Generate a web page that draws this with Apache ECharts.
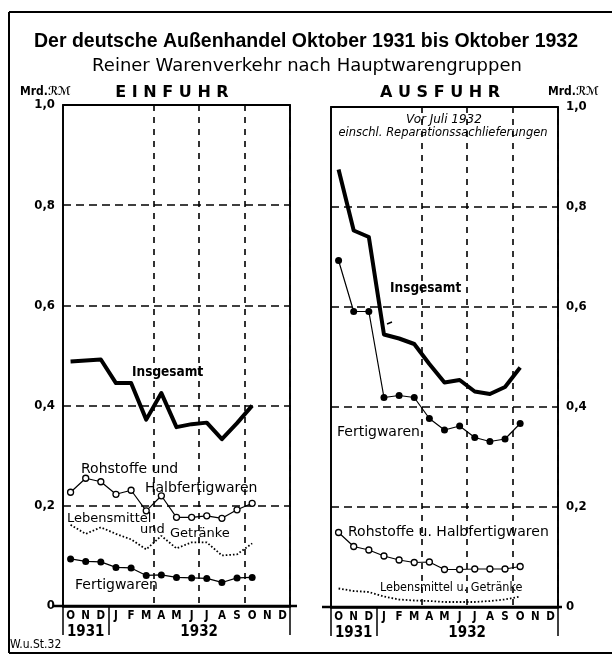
<!DOCTYPE html>
<html>
<head>
<meta charset="utf-8">
<script src="https://cdn.jsdelivr.net/npm/echarts@6/dist/echarts.min.js"></script>
<style>
html,body{margin:0;padding:0;background:#fff;}
#main{width:612px;height:656px;}
</style>
</head>
<body>
<div id="main"></div>
<script>
// Monate Okt 1931 - Dez 1932
var categories = ['Okt31','Nov31','Dez31','Jan32','Feb32','Mar32','Apr32','Mai32','Jun32','Jul32','Aug32','Sep32','Okt32','Nov32','Dez32'];
var monthLetters = ['O','N','D','J','F','M','A','M','J','J','A','S','O','N','D'];
var yearLabels = ['','1931','','','','','','','1932','','','','','',''];

// Einfuhr, Mrd. RM
var einInsgesamt = [0.488, 0.490, 0.492, 0.445, 0.445, 0.372, 0.425, 0.357, 0.363, 0.366, 0.333, 0.365, 0.400];
var einRohstoffe = [0.227, 0.255, 0.248, 0.223, 0.231, 0.190, 0.220, 0.177, 0.177, 0.180, 0.175, 0.192, 0.205];
var einLebensmittel = [0.162, 0.144, 0.157, 0.144, 0.133, 0.113, 0.140, 0.115, 0.127, 0.127, 0.101, 0.103, 0.125];
var einFertigwaren = [0.094, 0.089, 0.088, 0.077, 0.076, 0.061, 0.062, 0.057, 0.056, 0.055, 0.047, 0.056, 0.057];

// Ausfuhr, Mrd. RM
var ausInsgesamt = [0.875, 0.753, 0.740, 0.545, 0.537, 0.526, 0.486, 0.449, 0.454, 0.431, 0.426, 0.440, 0.479];
var ausFertigwaren = [0.693, 0.591, 0.591, 0.419, 0.423, 0.419, 0.377, 0.354, 0.362, 0.339, 0.331, 0.336, 0.367];
var ausRohstoffe = [0.149, 0.121, 0.114, 0.102, 0.094, 0.089, 0.090, 0.075, 0.075, 0.076, 0.076, 0.076, 0.081];
var ausLebensmittel = [0.037, 0.032, 0.030, 0.021, 0.015, 0.013, 0.012, 0.010, 0.010, 0.010, 0.012, 0.015, 0.021];

var fnt = '"DejaVu Sans Condensed","Liberation Sans Narrow",sans-serif';
var fntW = '"DejaVu Sans",sans-serif';

function yLabel(v){
	if(v===0){
		return '0';
	}
	return v.toFixed(1).replace('.', ',');
}

// drei x-Achsen je Feld: Monate, Zusatzlinien, Jahre
function xAxes(grid){
	return [{
		type:'category', gridIndex:grid, data:categories, position:'bottom',
		axisLine:{lineStyle:{color:'#000', width:2.5}},
		axisTick:{inside:true, length:5, interval:0, lineStyle:{color:'#000', width:1.5}},
		axisLabel:{interval:0, margin:4, color:'#000', fontFamily:fnt, fontWeight:'bold', fontSize:11.5,
			formatter:function(v, i){ return monthLetters[i]; }},
		splitLine:{show:true, interval:function(i){ return i===3; }, lineStyle:{color:'#000', width:1.5, type:'solid'}}
	},{
		type:'category', gridIndex:grid, data:categories, position:'bottom',
		axisLine:{show:false},
		axisTick:{show:true, inside:false, length:29, interval:function(i){ return i===0||i===3; }, lineStyle:{color:'#000', width:1.5}},
		axisLabel:{show:false},
		splitLine:{show:true, interval:function(i){ return i===6||i===9||i===12; }, lineStyle:{color:'#000', width:1.6, type:[6,6]}}
	},{
		type:'category', gridIndex:grid, data:categories, position:'bottom', offset:15,
		axisLine:{show:false}, axisTick:{show:false}, splitLine:{show:false},
		axisLabel:{interval:0, margin:4, color:'#000', fontFamily:fnt, fontWeight:'bold', fontSize:15,
			formatter:function(v, i){ return yearLabels[i]==='1932' ? '{p|}'+yearLabels[i] : yearLabels[i]; },
			rich:{p:{width:15}}}
	}];
}

function series(xi, yi, ins, roh, leb, fert){
	return [{
		type:'line', xAxisIndex:xi, yAxisIndex:yi, data:ins, symbol:'none',
		lineStyle:{color:'#000', width:4, join:'round'}
	},{
		type:'line', xAxisIndex:xi, yAxisIndex:yi, data:roh, symbol:'circle', symbolSize:6,
		lineStyle:{color:'#000', width:1.2},
		itemStyle:{color:'#fff', borderColor:'#000', borderWidth:1.3}
	},{
		type:'line', xAxisIndex:xi, yAxisIndex:yi, data:leb, symbol:'none',
		lineStyle:{color:'#000', width:1.8, type:[1.6,2]}
	},{
		type:'line', xAxisIndex:xi, yAxisIndex:yi, data:fert, symbol:'circle', symbolSize:7,
		lineStyle:{color:'#000', width:1.2},
		itemStyle:{color:'#000'}
	}];
}

function yAxis(grid, pos){
	return {
		type:'value', gridIndex:grid, position:pos, min:0, max:1, interval:0.2,
		axisLine:{show:false}, axisTick:{show:false},
		axisLabel:{margin:8, color:'#000', fontFamily:fnt, fontWeight:'bold', fontSize:13, formatter:yLabel},
		splitLine:{show:true, lineStyle:{color:'#000', width:1.6, type:[8,5]}}
	};
}

function txt(x, y, s, size, extra){
	var st = {text:s, x:x, y:y, fill:'#000', fontFamily:fntW, fontSize:size, align:'left', verticalAlign:'middle'};
	for(var k in extra){ st[k] = extra[k]; }
	return {type:'text', silent:true, z:50, style:st};
}
function ln(x1, y1, x2, y2, w){
	return {type:'line', silent:true, z:50, shape:{x1:x1, y1:y1, x2:x2, y2:y2}, style:{stroke:'#000', lineWidth:w||1.5}};
}

var myChart = echarts.init(document.getElementById('main'));
var option = {
	animation:false,
	backgroundColor:'#fff',
	grid:[
		{left:63, top:105, width:227, height:501, show:true, borderColor:'#000', borderWidth:1.8, backgroundColor:'transparent'},
		{left:331, top:107, width:227, height:500, show:true, borderColor:'#000', borderWidth:1.8, backgroundColor:'transparent'}
	],
	xAxis: xAxes(0).concat(xAxes(1)),
	yAxis: [yAxis(0, 'left'), yAxis(1, 'right')],
	series: series(0, 0, einInsgesamt, einRohstoffe, einLebensmittel, einFertigwaren)
		.concat(series(3, 1, ausInsgesamt, ausRohstoffe, ausLebensmittel, ausFertigwaren)),
	graphic:[
		// Rahmen
		ln(9, 12, 612, 12, 2), ln(9, 12, 9, 653, 2), ln(9, 653, 612, 653, 2),
		// Nulllinie verlaengert
		ln(53, 606, 297, 606, 2.5), ln(322, 607, 562, 607, 2.5),
		txt(306, 42, 'Der deutsche Außenhandel Oktober 1931 bis Oktober 1932', 19.5,
			{align:'center', fontFamily:'"Liberation Sans",sans-serif', fontWeight:'bold'}),
		txt(307, 66, 'Reiner Warenverkehr nach Hauptwarengruppen', 18, {align:'center'}),
		txt(20, 92, 'Mrd.ℛℳ', 12, {fontWeight:'bold', fontFamily:fnt}),
		txt(548, 92, 'Mrd.ℛℳ', 12, {fontWeight:'bold', fontFamily:fnt}),
		txt(172, 93, 'E I N F U H R', 16, {align:'center', fontWeight:'bold'}),
		txt(440, 93, 'A U S F U H R', 16, {align:'center', fontWeight:'bold'}),
		txt(444, 120, 'Vor Juli 1932', 12, {align:'center', fontStyle:'italic'}),
		txt(443, 133, 'einschl. Reparationssachlieferungen', 11.5, {align:'center', fontStyle:'italic'}),
		// Einfuhr
		txt(132, 372, 'Insgesamt', 13.5, {fontWeight:'bold', fontFamily:fnt}),
		txt(81, 469, 'Rohstoffe und', 14),
		txt(145, 488, 'Halbfertigwaren', 14),
		txt(67, 519, 'Lebensmittel', 13),
		txt(140, 530, 'und', 13),
		txt(170, 534, 'Getränke', 13),
		txt(75, 585, 'Fertigwaren', 14),
		// Ausfuhr
		txt(390, 288, 'Insgesamt', 13.5, {fontWeight:'bold', fontFamily:fnt}),
		ln(387, 324, 392, 322, 1.5),
		txt(337, 432, 'Fertigwaren', 14),
		txt(348, 532, 'Rohstoffe u. Halbfertigwaren', 14),
		txt(380, 588, 'Lebensmittel u. Getränke', 12.5, {fontFamily:fnt}),
		txt(10, 645, 'W.u.St.32', 12, {fontFamily:fnt})
	]
};
myChart.setOption(option);
</script>
</body>
</html>
